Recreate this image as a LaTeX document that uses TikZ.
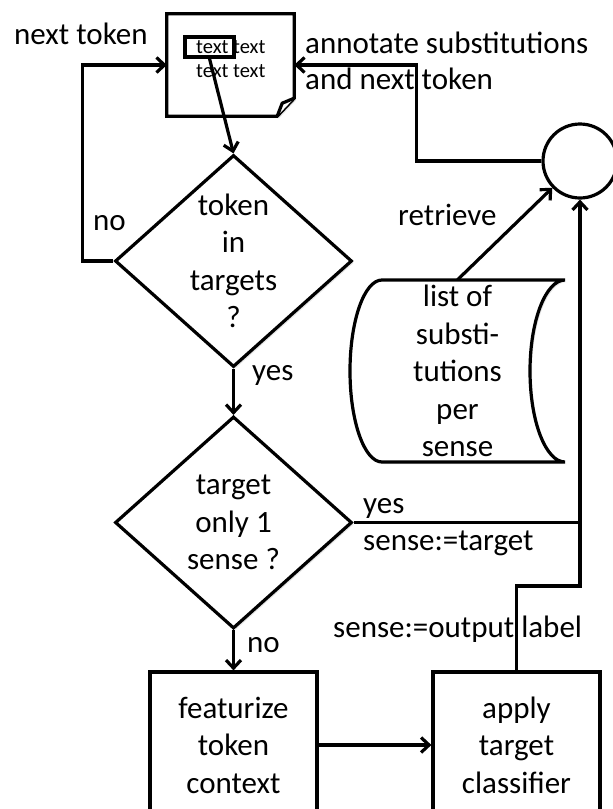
\documentclass[tikz,border=0pt]{standalone}
\usepackage{fontspec}
\setmainfont{Carlito}
\usetikzlibrary{shapes.geometric, arrows.meta, shadows}

\begin{document}
\begin{tikzpicture}[
    x=1pt, y=-1pt,
    font=\fontsize{31}{37.5}\selectfont,
    wire/.style={line width=3.2pt},
    arrow/.style={-{Straight Barb[length=8pt,width=15pt]}, line width=3.2pt},
    shadowed/.style={drop shadow={opacity=0.2, shadow xshift=2pt, shadow yshift=-2pt}},
    decision/.style={diamond, draw, line width=3.2pt, fill=white, shadowed, minimum width=237, minimum height=212, inner sep=0},
    process/.style={rectangle, draw, line width=3.2pt, fill=white, shadowed, minimum width=167, minimum height=146, align=center},
    tag/.style={anchor=base west, inner sep=0},
    doctext/.style={font=\fontsize{20.5}{24}\selectfont, anchor=base west, inner sep=0}
]
    \useasboundingbox (0,0) rectangle (613,809);
    \clip (0,0) rectangle (613,809);

    % Document with highlighted token
    \node[minimum width=127, minimum height=102, inner sep=0] (doc) at (230.5,65) {};
    \draw[wire, fill=white, shadowed] (doc.north west) -- (doc.north east) -- ([yshift=18pt]doc.south east) -- ([xshift=-17pt]doc.south east) -- (doc.south west) -- cycle;
    \draw[wire, fill=white] ([xshift=-17pt]doc.south east) -- ([xshift=-12pt,yshift=13pt]doc.south east) -- ([yshift=18pt]doc.south east);
    \node[doctext] (docline1) at (196,53) {text text};
    \node[doctext] (docline2) at (196,77) {text text};
    \node[draw, line width=3.2pt, minimum width=49, minimum height=20, inner sep=0] (word) at (209.5,47) {};

    % Decisions
    \node[decision] (intarget) at (233.5,261) {};
    \node[align=center] (intarget-text) at (intarget) {token\\in\\targets\\?};
    \node[decision] (onesense) at (233.5,522.5) {};
    \node[align=center] (onesense-text) at (onesense) {target\\only 1\\sense ?};

    % Processes
    \node[process] (featurize) at (233.5,745) {featurize\\token\\context};
    \node[process] (apply) at (516.5,745) {apply\\target\\classifier};

    % Substitution store and join point
    \draw[wire, fill=white, shadowed] (382,280) -- (565,280)
        .. controls (545.7,280) and (530,320.7) .. (530,371)
        .. controls (530,421.3) and (545.7,462) .. (565,462)
        -- (382,462)
        .. controls (364.3,462) and (350,421.3) .. (350,371)
        .. controls (350,320.7) and (364.3,280) .. (382,280) -- cycle;
    \node[align=center, minimum width=215, minimum height=182, inner sep=0] (store) at (457.5,371) {list of\\substi-\\tutions\\per\\sense};
    \node[circle, draw, wire, fill=white, minimum size=74, inner sep=0] (join) at (580,161) {};
    \coordinate (merge) at (580,586);

    % Arrows
    \draw[arrow] (word.south) -- (intarget.north);
    \draw[arrow] (intarget.west) -- ++(-31,0) |- (doc.west);
    \draw[arrow] (intarget.south) -- (onesense.north);
    \draw[arrow] (onesense.south) -- (featurize.north);
    \draw[arrow] (featurize) -- (apply);
    \draw[wire] (onesense.east) -- (onesense.east -| merge);
    \draw[arrow] (apply.north) |- (merge) -- (join);
    \draw[arrow] (store.north) -- (join);
    \draw[arrow] (join.west) -- ++(-125,0) |- (doc.east);

    % Labels
    \node[tag] (nexttoken) at (14,44) {next token};
    \node[tag] (annotate) at (305,53) {annotate substitutions};
    \node[tag] (annotate2) at (305,89) {and next token};
    \node[tag] (no1) at (93,230) {no};
    \node[tag] (yes1) at (252,380) {yes};
    \node[tag] (retrieve) at (398,225) {retrieve};
    \node[tag] (yes2) at (363,513) {yes};
    \node[tag] (sensetarget) at (363,550) {sense:=target};
    \node[tag] (senseoutput) at (333,637) {sense:=output label};
    \node[tag] (no2) at (247,652) {no};
\end{tikzpicture}
\end{document}
